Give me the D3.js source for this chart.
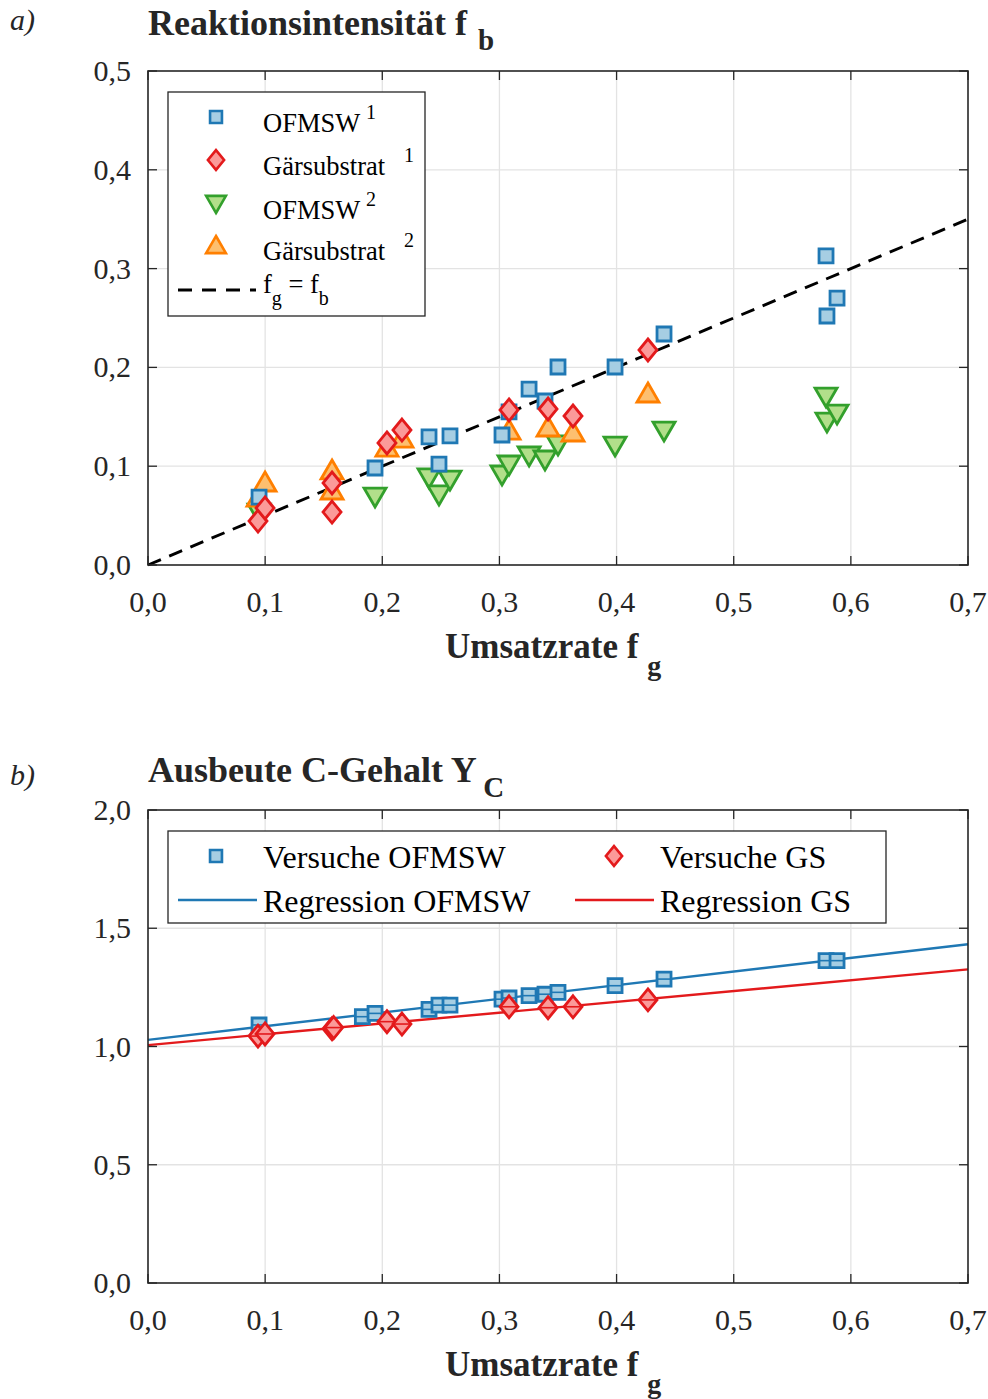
<!DOCTYPE html>
<html><head><meta charset="utf-8">
<script src="https://cdn.jsdelivr.net/npm/d3@7"></script>
<style>
html,body{margin:0;padding:0;background:#fff;}
svg{display:block;font-family:"Liberation Serif","Times New Roman",serif;}
</style></head>
<body><svg id="c" width="988" height="1399"></svg>
<script>
// ---------- data ----------
const xTickLabels = ["0,0","0,1","0,2","0,3","0,4","0,5","0,6","0,7"];
const yTickLabelsA = ["0,0","0,1","0,2","0,3","0,4","0,5"];
const yTickLabelsB = ["0,0","0,5","1,0","1,5","2,0"];

// Chart a: OFMSW (same experiments for series 1 and 2)
const ofmswX  = [0.0948,0.1938,0.2399,0.2484,0.2578,0.3022,0.3082,0.3253,0.3389,0.3500,0.3987,0.4405,0.5788,0.5796,0.5882];
const ofmsw1Y = [0.0688,0.0982,0.1296,0.1022,0.1306,0.1316,0.1549,0.1781,0.1660,0.2004,0.2004,0.2338,0.3128,0.2520,0.2702];
const ofmsw2Y = [0.0526,0.0688,0.0881,0.0709,0.0860,0.0911,0.1012,0.1103,0.1063,0.1215,0.1204,0.1356,0.1700,0.1447,0.1528];
// Chart a: Gärsubstrat
const gsX  = [0.0939,0.0999,0.1571,0.1571,0.2040,0.2168,0.3082,0.3415,0.3628,0.4268];
const gs1Y = [0.0445,0.0577,0.0830,0.0536,0.1235,0.1366,0.1569,0.1579,0.1508,0.2176];
const gs2Y = [0.0688,0.0840,0.0962,0.0759,0.1194,0.1285,0.1366,0.1397,0.1346,0.1741];
// Chart a: dashed reference line (as drawn in the figure)
const refLineX = [0, 0.7];
const refLineY = [0, 0.35];

// Chart b: Ausbeute C-Gehalt
const yOfX = [0.0948,0.1830,0.1938,0.2399,0.2484,0.2578,0.3022,0.3082,0.3253,0.3389,0.3500,0.3987,0.4405,0.5788,0.5882];
const yOfY = [1.091,1.126,1.140,1.157,1.175,1.175,1.200,1.205,1.215,1.221,1.229,1.257,1.285,1.363,1.363];
const yGsX = [0.0939,0.0999,0.1571,0.1585,0.2040,0.2168,0.3082,0.3415,0.3628,0.4268];
const yGsY = [1.044,1.053,1.075,1.080,1.105,1.095,1.168,1.164,1.168,1.197];
const regX = [0, 0.7];
const regOFMSW = [1.028, 0.578]; // intercept, slope
const regGS    = [1.006, 0.457];

// ---------- styles ----------
const C = {
  blue:{stroke:"#1f78b4",fill:"#a6cee3"},
  red:{stroke:"#e31a1c",fill:"#fb9a99"},
  green:{stroke:"#33a02c",fill:"#b2df8a"},
  orange:{stroke:"#ff7f00",fill:"#fdbf6f"}
};
const axisColor = "#262626", gridColor = "#e3e3e3";
const svg = d3.select("#c");

const shapes = {
  square: "M-7,-7H7V7H-7Z",
  diamond: "M0,-11L9,0L0,11L-9,0Z",
  up: "M0,-10L11,9H-11Z",
  down: "M0,10L11,-9H-11Z"
};
function markers(g, xs, ys, xS, yS, shape, col, midline){
  const data = xs.map((x,i)=>({x, y: ys[i]}));
  const sel = g.append("g").selectAll("g").data(data).join("g")
    .attr("transform", d=>`translate(${xS(d.x)},${yS(d.y)})`);
  sel.append("path").attr("d", shapes[shape])
    .attr("fill", col.fill).attr("stroke", col.stroke).attr("stroke-width", 2.8)
    .attr("stroke-linejoin","miter");
  if (midline) {
    const hw = shape === "square" ? 7 : 9;
    sel.append("line").attr("x1",-hw).attr("x2",hw).attr("y1",0).attr("y2",0)
      .attr("stroke", col.stroke).attr("stroke-width", 1.6);
  }
}

function frame(L, T, R, B, yMax, yTicks){
  const x = d3.scaleLinear().domain([0,0.7]).range([L,R]);
  const y = d3.scaleLinear().domain([0,yMax]).range([B,T]);
  const g = svg.append("g");
  const xt = d3.range(8).map(i=>i*0.1);
  g.append("g").selectAll("line").data(xt.slice(1,-1)).join("line")
    .attr("x1",d=>x(d)).attr("x2",d=>x(d)).attr("y1",T).attr("y2",B)
    .attr("stroke",gridColor).attr("stroke-width",1.3);
  g.append("g").selectAll("line").data(yTicks.slice(1,-1)).join("line")
    .attr("x1",L).attr("x2",R).attr("y1",d=>y(d)).attr("y2",d=>y(d))
    .attr("stroke",gridColor).attr("stroke-width",1.3);
  return {x, y, g, xt};
}
function axesOver(f, L, T, R, B, yTicks, yLabels, xLabelY){
  const {x, y, g, xt} = f;
  const a = g.append("g");
  a.append("rect").attr("x",L).attr("y",T).attr("width",R-L).attr("height",B-T)
    .attr("fill","none").attr("stroke",axisColor).attr("stroke-width",1.6);
  xt.forEach(v=>{
    a.append("line").attr("x1",x(v)).attr("x2",x(v)).attr("y1",B).attr("y2",B-9).attr("stroke",axisColor).attr("stroke-width",1.3);
    a.append("line").attr("x1",x(v)).attr("x2",x(v)).attr("y1",T).attr("y2",T+9).attr("stroke",axisColor).attr("stroke-width",1.3);
  });
  yTicks.forEach(v=>{
    a.append("line").attr("x1",L).attr("x2",L+9).attr("y1",y(v)).attr("y2",y(v)).attr("stroke",axisColor).attr("stroke-width",1.3);
    a.append("line").attr("x1",R).attr("x2",R-9).attr("y1",y(v)).attr("y2",y(v)).attr("stroke",axisColor).attr("stroke-width",1.3);
  });
  a.append("g").selectAll("text").data(xt).join("text")
    .attr("x",d=>x(d)).attr("y",xLabelY).attr("text-anchor","middle")
    .attr("font-size",30).attr("fill","#262626").text((d,i)=>xTickLabels[i]);
  a.append("g").selectAll("text").data(yTicks).join("text")
    .attr("x",L-17).attr("y",d=>y(d)+10).attr("text-anchor","end")
    .attr("font-size",30).attr("fill","#262626").text((d,i)=>yLabels[i]);
}
function subText(parent, x, y, main, sub, size, weight, subDx, subDy, subSize){
  const t = parent.append("text").attr("x",x).attr("y",y).attr("font-size",size)
    .attr("font-weight",weight).attr("fill","#262626");
  t.append("tspan").text(main);
  t.append("tspan").attr("dx",subDx).attr("dy",subDy).attr("font-size",subSize).text(sub);
  return t;
}

// ---------------- Chart a ----------------
{
  const L=148,T=71,R=968,B=565;
  const yTicks=[0,0.1,0.2,0.3,0.4,0.5];
  const f = frame(L,T,R,B,0.5,yTicks);
  const {x,y,g} = f;
  const lg = d3.line().x((d,i)=>x(refLineX[i])).y((d,i)=>y(refLineY[i]));
  g.append("path").datum(refLineX).attr("d",lg).attr("fill","none")
    .attr("stroke","#000").attr("stroke-width",2.9).attr("stroke-dasharray","14,9");
  markers(g, ofmswX, ofmsw2Y, x, y, "down", C.green, false);
  markers(g, gsX, gs2Y, x, y, "up", C.orange, false);
  markers(g, ofmswX, ofmsw1Y, x, y, "square", C.blue, false);
  markers(g, gsX, gs1Y, x, y, "diamond", C.red, false);
  axesOver(f,L,T,R,B,yTicks,yTickLabelsA,612);

  svg.append("text").attr("x",10).attr("y",30).attr("font-size",30).attr("font-style","italic").attr("fill","#262626").text("a)");
  subText(svg,148,35,"Reaktionsintensität f ","b",36,"bold",2,15,29);
  subText(svg,445,658,"Umsatzrate f ","g",35,"bold",0,17,28);

  // legend
  const lgd = svg.append("g");
  lgd.append("rect").attr("x",168).attr("y",92).attr("width",257).attr("height",224)
    .attr("fill","#fff").attr("stroke",axisColor).attr("stroke-width",1.3);
  const items = [
    {shape:"square",col:C.blue,label:"OFMSW",sup:"1",supX:366,y:117},
    {shape:"diamond",col:C.red,label:"Gärsubstrat",sup:"1",supX:404,y:160},
    {shape:"down",col:C.green,label:"OFMSW",sup:"2",supX:366,y:204},
    {shape:"up",col:C.orange,label:"Gärsubstrat",sup:"2",supX:404,y:245}
  ];
  items.forEach(it=>{
    const sc = it.shape==="square"?0.85:0.9;
    lgd.append("path").attr("d",shapes[it.shape]).attr("transform",`translate(216,${it.y}) scale(${sc})`)
      .attr("fill",it.col.fill).attr("stroke",it.col.stroke).attr("stroke-width",2.6/sc);
    lgd.append("text").attr("x",263).attr("y",it.y+15).attr("font-size",26.5).attr("fill","#000").text(it.label);
    lgd.append("text").attr("x",it.supX).attr("y",it.y+2).attr("font-size",20).attr("fill","#000").text(it.sup);
  });
  lgd.append("line").attr("x1",178).attr("x2",256).attr("y1",290).attr("y2",290)
    .attr("stroke","#000").attr("stroke-width",2.9).attr("stroke-dasharray","14,10");
  const ft = lgd.append("text").attr("x",263).attr("y",293).attr("font-size",26.5).attr("fill","#000");
  ft.append("tspan").text("f");
  ft.append("tspan").attr("dy",12).attr("font-size",20).text("g");
  ft.append("tspan").attr("dy",-12).text(" = f");
  ft.append("tspan").attr("dy",12).attr("font-size",20).text("b");
}

// ---------------- Chart b ----------------
{
  const L=148,T=810,R=968,B=1283;
  const yTicks=[0,0.5,1,1.5,2];
  const f = frame(L,T,R,B,2,yTicks);
  const {x,y,g} = f;
  const reg = (p)=> d3.line().x(d=>x(d)).y(d=>y(p[0]+p[1]*d));
  g.append("path").datum(regX).attr("d",reg(regOFMSW)).attr("fill","none")
    .attr("stroke",C.blue.stroke).attr("stroke-width",2.4);
  g.append("path").datum(regX).attr("d",reg(regGS)).attr("fill","none")
    .attr("stroke",C.red.stroke).attr("stroke-width",2.4);
  markers(g, yOfX, yOfY, x, y, "square", C.blue, true);
  markers(g, yGsX, yGsY, x, y, "diamond", C.red, true);
  axesOver(f,L,T,R,B,yTicks,yTickLabelsB,1330);

  svg.append("text").attr("x",10).attr("y",785).attr("font-size",30).attr("font-style","italic").attr("fill","#262626").text("b)");
  subText(svg,148,782,"Ausbeute C-Gehalt Y ","C",36,"bold",-1,15,29);
  subText(svg,445,1376,"Umsatzrate f ","g",35,"bold",0,17,28);

  const lgd = svg.append("g");
  lgd.append("rect").attr("x",168).attr("y",831).attr("width",718).attr("height",92)
    .attr("fill","#fff").attr("stroke",axisColor).attr("stroke-width",1.3);
  lgd.append("path").attr("d",shapes.square).attr("transform","translate(216,856) scale(0.85)")
    .attr("fill",C.blue.fill).attr("stroke",C.blue.stroke).attr("stroke-width",3.1);
  lgd.append("path").attr("d",shapes.diamond).attr("transform","translate(614,856) scale(0.9)")
    .attr("fill",C.red.fill).attr("stroke",C.red.stroke).attr("stroke-width",2.9);
  lgd.append("line").attr("x1",178).attr("x2",257).attr("y1",900).attr("y2",900).attr("stroke",C.blue.stroke).attr("stroke-width",2.4);
  lgd.append("line").attr("x1",575).attr("x2",654).attr("y1",900).attr("y2",900).attr("stroke",C.red.stroke).attr("stroke-width",2.4);
  const tx = [[263,868,"Versuche OFMSW"],[660,868,"Versuche GS"],[263,912,"Regression OFMSW"],[660,912,"Regression GS"]];
  tx.forEach(t=>lgd.append("text").attr("x",t[0]).attr("y",t[1]).attr("font-size",32).attr("fill","#000").text(t[2]));
}
</script></body></html>
